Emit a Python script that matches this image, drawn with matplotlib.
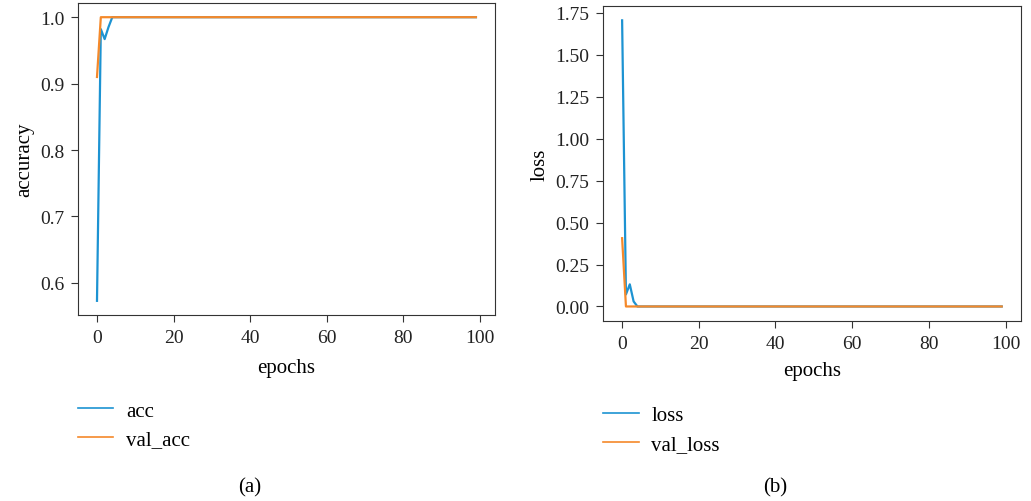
import numpy as np
import matplotlib
matplotlib.use("Agg")
import matplotlib.pyplot as plt

# training history (first epochs, then flat)
epochs = np.arange(100)
acc_start = [0.573, 0.982, 0.967, 0.985]
val_acc_start = [0.910]
loss_start = [1.705, 0.072, 0.132, 0.030]
val_loss_start = [0.407]

acc = np.array(acc_start + [1.0] * (100 - len(acc_start)))
val_acc = np.array(val_acc_start + [1.0] * (100 - len(val_acc_start)))
loss = np.array(loss_start + [0.0] * (100 - len(loss_start)))
val_loss = np.array(val_loss_start + [0.0] * (100 - len(val_loss_start)))

blue = '#1d93d2'
orange = '#f5892a'

plt.rcParams['font.family'] = ['Liberation Serif', 'DejaVu Serif']
plt.rcParams['font.size'] = 14

fig = plt.figure(figsize=(10.31, 5.02), dpi=100)
ax1 = fig.add_axes([0.0757, 0.3705, 0.4043, 0.6215])
ax2 = fig.add_axes([0.585, 0.359, 0.405, 0.627])

ax1.plot(epochs, acc, color=blue, lw=1.6, label='acc')
ax1.plot(epochs, val_acc, color=orange, lw=1.6, label='val_acc')
ax1.set_xlabel('epochs', fontsize=15, labelpad=9)
ax1.set_ylabel('accuracy', fontsize=15)
ax1.set_yticks([0.6, 0.7, 0.8, 0.9, 1.0])

ax2.plot(epochs, loss, color=blue, lw=1.6, label='loss')
ax2.plot(epochs, val_loss, color=orange, lw=1.6, label='val_loss')
ax2.set_xlabel('epochs', fontsize=15, labelpad=7)
ax2.set_ylabel('loss', fontsize=15)
ax2.set_yticks([0, 0.25, 0.5, 0.75, 1.0, 1.25, 1.5, 1.75])
ax2.set_yticklabels(['0.00', '0.25', '0.50', '0.75', '1.00', '1.25', '1.50', '1.75'])

for ax in (ax1, ax2):
    ax.set_xticks([0, 20, 40, 60, 80, 100])
    ax.tick_params(length=5, pad=5, color='#333333', labelcolor='#222222')
    for s in ax.spines.values():
        s.set_color('#333333')

leg1 = ax1.legend(loc='upper left', bbox_to_anchor=(0.0757, 0.199), bbox_transform=fig.transFigure,
                  frameon=False, handlelength=1.7, handletextpad=0.62, borderpad=0, borderaxespad=0,
                  labelspacing=0.44, fontsize=15)
leg2 = ax2.legend(loc='upper left', bbox_to_anchor=(0.585, 0.190), bbox_transform=fig.transFigure,
                  frameon=False, handlelength=1.7, handletextpad=0.62, borderpad=0, borderaxespad=0,
                  labelspacing=0.44, fontsize=15)
for leg in (leg1, leg2):
    for h in leg.get_lines():
        h.set_linewidth(1.2)

fig.text(250 / 1031, 1 - 488 / 502, '(a)', ha='center', va='center', fontsize=15)
fig.text(775 / 1031, 1 - 488 / 502, '(b)', ha='center', va='center', fontsize=15)

plt.savefig('out.png', dpi=100)
